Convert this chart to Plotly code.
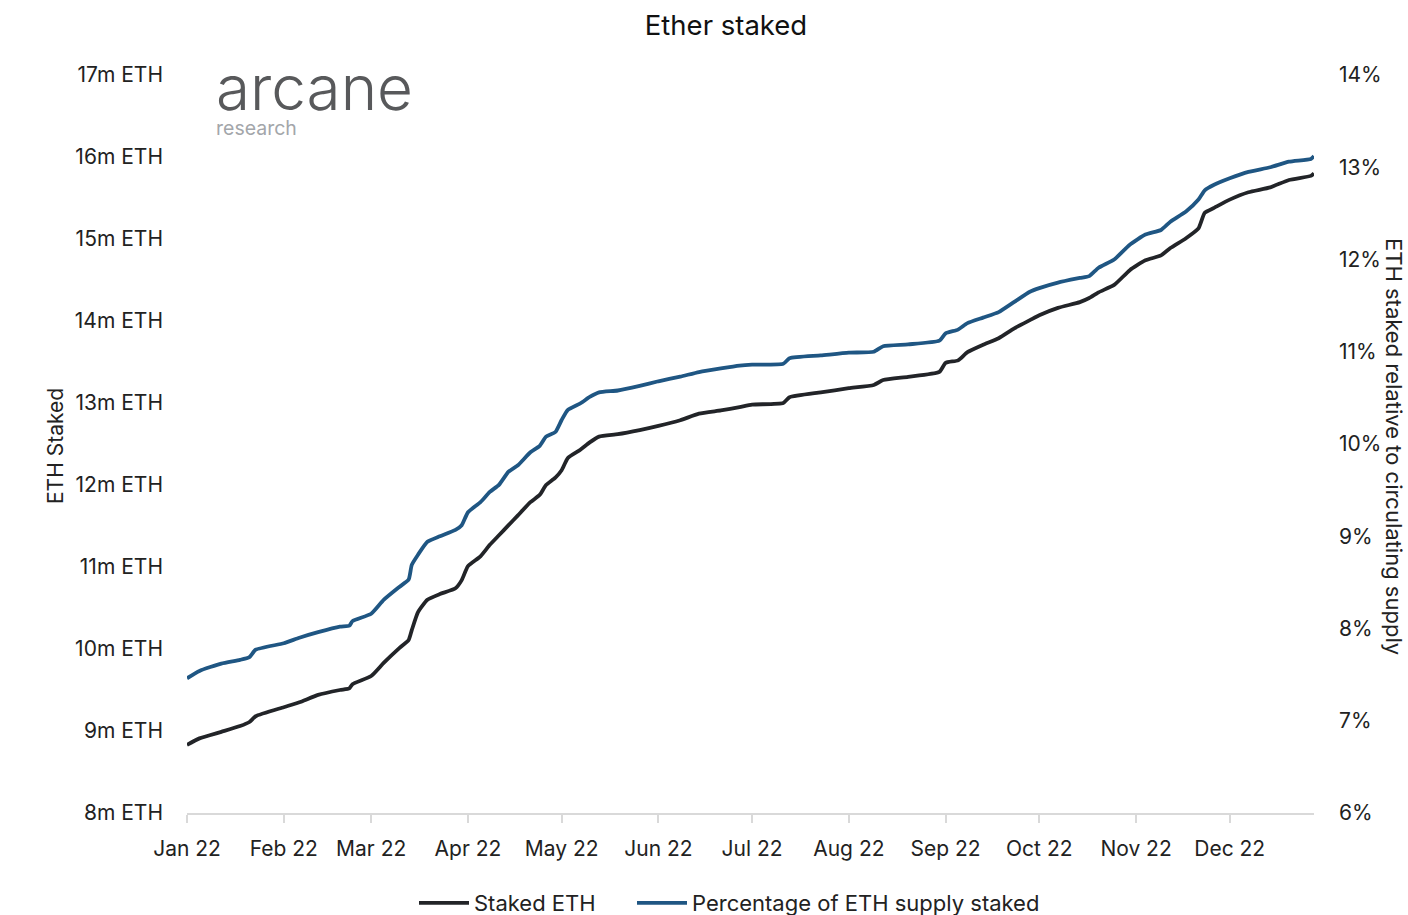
import plotly.graph_objects as go

dates = ["2022-01-01","2022-01-05","2022-01-12","2022-01-18","2022-01-21","2022-01-23",
         "2022-02-01","2022-02-06","2022-02-12","2022-02-19","2022-02-22","2022-02-23",
         "2022-03-01","2022-03-05","2022-03-10","2022-03-13","2022-03-14","2022-03-16",
         "2022-03-19","2022-03-23","2022-03-28","2022-03-30","2022-04-01","2022-04-05",
         "2022-04-08","2022-04-11","2022-04-14","2022-04-17","2022-04-21","2022-04-24",
         "2022-04-26","2022-04-29","2022-05-01","2022-05-03","2022-05-07","2022-05-10",
         "2022-05-13","2022-05-19","2022-05-26","2022-06-01","2022-06-08","2022-06-14",
         "2022-06-21","2022-06-27","2022-07-01","2022-07-11","2022-07-13","2022-07-23",
         "2022-08-01","2022-08-09","2022-08-12","2022-08-20","2022-08-30","2022-09-01",
         "2022-09-05","2022-09-08","2022-09-13","2022-09-18","2022-09-23","2022-09-28",
         "2022-10-01","2022-10-07","2022-10-14","2022-10-17","2022-10-20","2022-10-25",
         "2022-10-30","2022-11-04","2022-11-09","2022-11-12","2022-11-17","2022-11-21",
         "2022-11-23","2022-11-26","2022-12-01","2022-12-07","2022-12-14","2022-12-20",
         "2022-12-27","2022-12-28"]

staked_eth_m = [8.83,8.91,8.99,9.06,9.11,9.18,
                9.29,9.35,9.44,9.50,9.52,9.57,
                9.67,9.83,10.01,10.11,10.23,10.45,
                10.60,10.67,10.74,10.84,11.01,11.13,
                11.27,11.39,11.51,11.63,11.79,11.88,
                12.00,12.09,12.18,12.33,12.43,12.52,
                12.59,12.62,12.67,12.72,12.79,12.87,
                12.91,12.95,12.98,13.00,13.07,13.13,
                13.18,13.22,13.28,13.32,13.38,13.49,
                13.52,13.62,13.71,13.79,13.91,14.01,
                14.07,14.16,14.23,14.28,14.35,14.44,
                14.62,14.74,14.80,14.89,15.01,15.13,
                15.32,15.38,15.48,15.57,15.63,15.72,
                15.77,15.80]

pct_supply_staked = [7.46,7.54,7.62,7.66,7.69,7.77,
                     7.84,7.90,7.96,8.02,8.03,8.08,
                     8.16,8.31,8.45,8.53,8.69,8.80,
                     8.94,9.00,9.07,9.12,9.26,9.37,
                     9.48,9.56,9.70,9.77,9.91,9.98,
                     10.08,10.13,10.26,10.37,10.44,10.51,
                     10.56,10.58,10.63,10.68,10.73,10.78,
                     10.82,10.85,10.86,10.87,10.93,10.96,
                     10.99,11.00,11.06,11.08,11.12,11.20,
                     11.24,11.31,11.37,11.43,11.54,11.65,
                     11.69,11.75,11.80,11.82,11.91,12.00,
                     12.16,12.27,12.32,12.41,12.52,12.65,
                     12.75,12.81,12.88,12.95,13.00,13.06,
                     13.09,13.12]

left_ticks = [8, 9, 10, 11, 12, 13, 14, 15, 16, 17]
left_labels = [f"{v}m ETH" for v in left_ticks]
right_ticks = [6, 7, 8, 9, 10, 11, 12, 13, 14]
right_labels = [f"{v}%" for v in right_ticks]

FONT = "Inter, Lato, sans-serif"
BLACK = "#222428"
BLUE = "#1f5683"
W, H = 1408, 915
L, R, T, B = 187, 94, 75, 102
PW, PH = W - L - R, H - T - B


def px_x(x):
    return (x - L) / PW


def px_y(y):
    return (H - B - y) / PH


fig = go.Figure()
fig.add_trace(go.Scatter(x=dates, y=staked_eth_m, name="Staked ETH", mode="lines",
                         legend="legend", showlegend=True,
                         line=dict(color=BLACK, width=3.8, shape="spline", smoothing=0.5)))
fig.add_trace(go.Scatter(x=dates, y=pct_supply_staked, name="Percentage of ETH supply staked",
                         mode="lines", yaxis="y2", legend="legend2", showlegend=True,
                         line=dict(color=BLUE, width=3.8, shape="spline", smoothing=0.5)))

legend_common = dict(orientation="h", xanchor="left", xref="container",
                     y=12 / H, yanchor="middle", yref="container",
                     font=dict(size=22), itemwidth=50, visible=True)

fig.update_layout(
    width=W, height=H, showlegend=True,
    paper_bgcolor="white", plot_bgcolor="white",
    margin=dict(l=L, r=R, t=T, b=B),
    font=dict(family=FONT, size=21, color="#222222"),
    title=dict(text="Ether staked", x=726 / W, xanchor="center", y=1 - 25 / H, yanchor="middle",
               font=dict(size=27.5, color="#111111")),
    xaxis=dict(range=["2022-01-01", "2022-12-28"], dtick="M1", tick0="2022-01-01",
               tickformat="%b %y", showgrid=False, showline=True, linecolor="#d9d9d9",
               linewidth=2, ticks="outside", ticklen=8, tickcolor="#d9d9d9", tickwidth=2,
               ticklabelstandoff=8, zeroline=False),
    yaxis=dict(range=[8, 17], tickvals=left_ticks, ticktext=left_labels, showgrid=False,
               showline=False, zeroline=False, ticklabelstandoff=23),
    yaxis2=dict(range=[6, 14], tickvals=right_ticks, ticktext=right_labels, overlaying="y",
                side="right", showgrid=False, showline=False, zeroline=False,
                ticklabelstandoff=24),
    legend=dict(x=(420 - 6) / W, **legend_common),
    legend2=dict(x=(638 - 6) / W, **legend_common),
    annotations=[
        dict(text="ETH Staked", textangle=-90, xref="paper", yref="paper",
             x=px_x(55), y=px_y(446), showarrow=False,
             font=dict(size=21, color="#222222"), xanchor="center", yanchor="middle"),
        dict(text="ETH staked relative to circulating supply", textangle=90, xref="paper",
             yref="paper", x=px_x(1394), y=px_y(446), showarrow=False,
             font=dict(size=22, color="#222222"), xanchor="center", yanchor="middle"),
        dict(text=('<span style="font-size:62px;color:#58595b;font-weight:300">arcane</span>'
                   '<br><span style="color:#a3a6aa">research</span>'),
             xref="paper", yref="paper", x=px_x(214), y=px_y(48), xanchor="left",
             yanchor="top", align="left", showarrow=False,
             font=dict(size=19.5, color="#a3a6aa", family=FONT)),
    ],
)

fig.write_html("out.html", config={"displayModeBar": False},
               post_script="document.body.style.margin='0';document.body.style.overflow='hidden';")
